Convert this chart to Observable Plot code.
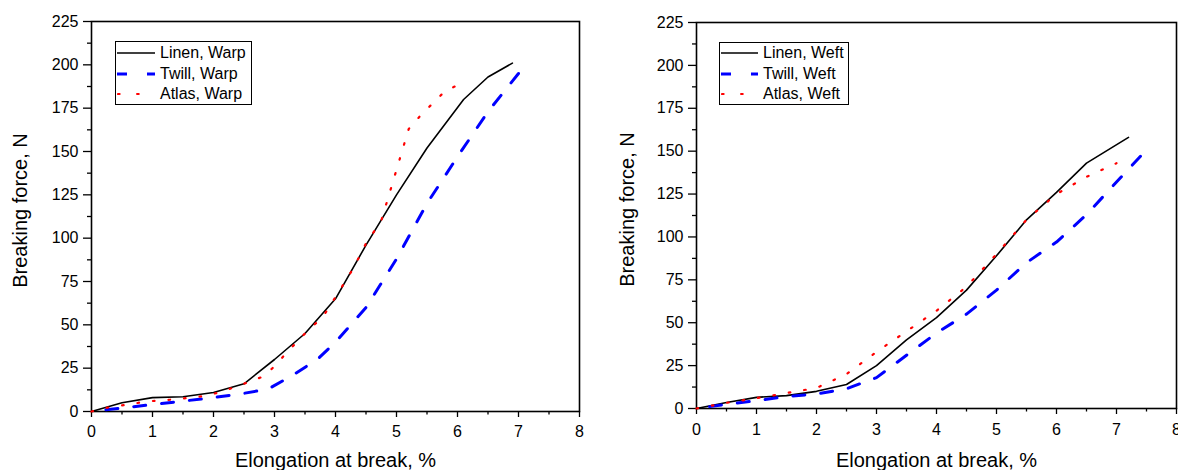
<!DOCTYPE html>
<html><head><meta charset="utf-8">
<script src="https://cdn.jsdelivr.net/npm/d3@7"></script>
<script src="https://cdn.jsdelivr.net/npm/@observablehq/plot@0.6"></script>
<style>
html,body{margin:0;padding:0;background:#fff;}
#wrap{position:relative;width:1178px;height:470px;overflow:hidden;font-family:"Liberation Sans",Arial,sans-serif;}
.panel{position:absolute;top:0;}
.panel svg{overflow:visible;}
.legend{position:absolute;border:1px solid #000;background:#fff;box-sizing:border-box;font-size:16px;color:#000;}
.legend .row{position:absolute;left:0;height:20px;display:flex;align-items:center;white-space:nowrap;}
.legend .row svg{display:block;margin-right:5px;}
</style>
</head><body>
<div id="wrap"></div>
<script>
// ---- tick values ----
const xTicks = [0,1,2,3,4,5,6,7,8];
const xMinor = [0.5,1.5,2.5,3.5,4.5,5.5,6.5,7.5];
const yTicks = [0,25,50,75,100,125,150,175,200,225];
const yMinor = [12.5,37.5,62.5,87.5,112.5,137.5,162.5,187.5,212.5];
const xTitle = "Elongation at break, %";
const yTitle = "Breaking force, N";

// ---- Warp (left panel) ----
const linenWarpX = [0,0.5,1,1.5,2,2.5,3,3.5,4,4.5,5,5.5,6.1,6.5,6.9];
const linenWarpY = [0,5,8,8.5,11,16,30,45,65,96,125,152,180,193,201];
const twillWarpX = [0,0.5,1,1.5,2,2.5,2.9,3.3,3.7,4,4.5,5,5.5,6,6.5,7];
const twillWarpY = [0,2,4,6,8,10.5,13,21,30,40,60,88,120,147,173,195];
const atlasWarpX = [0,0.3,0.6,0.9,1.2,1.5,1.8,2.1,2.5,2.8,3,3.2,3.5,3.8,4,4.3,4.5,4.75,5.2,5.4,5.6,5.8,6.05];
const atlasWarpY = [0,2.5,4,5.8,6.5,7.5,8.7,11,16,20,26,34,45,55,66,83,97,110,163,171,178,185,189];

// ---- Weft (right panel) ----
const linenWeftX = [0,0.5,1,1.5,2,2.5,3,3.5,4,4.5,5,5.5,6,6.5,7.2];
const linenWeftY = [0,3.5,6.5,7.5,10,14,25,40,53,69,89,110,126,143,158];
const twillWeftX = [0,0.5,1,1.5,2,2.5,3,3.5,4,4.5,5,5.5,6,6.5,7,7.4];
const twillWeftY = [0,2.5,4.5,7,8.5,11.5,18,31,44,55,69,85,97,113,132,147];
const atlasWeftX = [0,0.5,1,1.5,2,2.5,3,3.5,4,4.5,5,5.5,6,6.5,7];
const atlasWeftY = [0,3.3,6,9,12,20,33,45,57,71,90,110,125,135,143];

const warpLabels = ["Linen, Warp","Twill, Warp","Atlas, Warp"];
const weftLabels = ["Linen, Weft","Twill, Weft","Atlas, Weft"];

const styles = [
  {stroke:"#000000", strokeWidth:1.6, dash:null},
  {stroke:"#0000ff", strokeWidth:3, dash:"12,16"},
  {stroke:"#ff0000", strokeWidth:2.2, dash:"1.6,14"}
];

const toPts = (xs, ys) => xs.map((x,i)=>({x, y:ys[i]}));

function panel(series, o){
  const marks = [
    Plot.axisX({ticks:xMinor, tickSize:3.5, text:null, label:null, strokeWidth:1.3}),
    Plot.axisY({ticks:yMinor, tickSize:4, text:null, label:null, strokeWidth:1.3}),
    Plot.axisX({ticks:xTicks, tickSize:6, tickPadding:o.xPad, label:null, fontSize:16, tickFormat:d=>String(d), strokeWidth:1.3}),
    Plot.axisY({ticks:yTicks, tickSize:8, tickPadding:5, label:null, fontSize:16, tickFormat:d=>String(d), strokeWidth:1.3}),
    Plot.frame({stroke:"#000", strokeWidth:1.6}),
    Plot.text([xTitle], {frameAnchor:"bottom", dy:o.xTitleDy, fontSize:20, lineAnchor:"bottom", textAnchor:"middle", fill:"#000"}),
    Plot.text([yTitle], {frameAnchor:"left", rotate:-90, dx:o.yTitleDx, dy:-6, fontSize:20, textAnchor:"middle", fill:"#000"})
  ];
  series.forEach((s,i)=>{
    const st = styles[i];
    const opt = {x:"x", y:"y", stroke:st.stroke, strokeWidth:st.strokeWidth, curve:"linear"};
    if (st.dash) { opt.strokeDasharray = st.dash; }
    if (i===2) opt.strokeLinecap = "round";
    marks.push(Plot.line(toPts(s[0], s[1]), opt));
  });
  return Plot.plot({
    width:o.width, height:470,
    marginLeft:o.ml, marginRight:o.mr, marginTop:o.mt, marginBottom:o.mb,
    x:{domain:[0,8], ticks:[]},
    y:{domain:[0,225], ticks:[]},
    style:{fontFamily:'"Liberation Sans", Arial, sans-serif', fontSize:"16px", color:"#000", background:"transparent", overflow:"visible"},
    marks
  });
}

function legend(labels, box){
  const d = document.createElement("div");
  d.className = "legend";
  Object.assign(d.style, {left:box.left+"px", top:box.top+"px", width:box.w+"px", height:box.h+"px"});
  labels.forEach((lab,i)=>{
    const st = styles[i];
    const row = document.createElement("div");
    row.className = "row";
    row.style.top = (box.rowTop + i*20.5 - 10) + "px";
    row.style.left = "1px";
    const dash = i===1 ? "10,20" : (i===2 ? "1.6,17.5" : "none");
    row.innerHTML = `<svg width="${box.sw}" height="8"><line x1="${i===2?1:0}" y1="4" x2="${box.sw}" y2="4" stroke="${st.stroke}" stroke-width="${st.strokeWidth}" stroke-dasharray="${dash}" stroke-linecap="${i===2?'round':'butt'}"/></svg><span>${lab}</span>`;
    d.appendChild(row);
  });
  return d;
}

const wrap = document.getElementById("wrap");

const p1 = document.createElement("div"); p1.className="panel"; p1.style.left="0px";
p1.appendChild(panel([[linenWarpX,linenWarpY],[twillWarpX,twillWarpY],[atlasWarpX,atlasWarpY]],
  {width:600, ml:91, mr:21, mt:21, mb:59, xPad:8, xTitleDy:55, yTitleDx:-71}));
wrap.appendChild(p1);

const p2 = document.createElement("div"); p2.className="panel"; p2.style.left="589px";
p2.appendChild(panel([[linenWeftX,linenWeftY],[twillWeftX,twillWeftY],[atlasWeftX,atlasWeftY]],
  {width:589, ml:107, mr:2, mt:22, mb:62, xPad:9, xTitleDy:58, yTitleDx:-69}));
wrap.appendChild(p2);

wrap.appendChild(legend(warpLabels, {left:115, top:41, w:137, h:64, rowTop:11, sw:38}));
wrap.appendChild(legend(weftLabels, {left:719, top:42, w:130, h:63, rowTop:10, sw:37}));

// make the dashed lines finish on a dash, as in the reference
document.querySelectorAll('[stroke="#0000ff"] path, path[stroke="#0000ff"]').forEach(p => {
  if (!p.getTotalLength) return;
  const L = p.getTotalLength();
  const off = (((12 - L) % 28) + 28) % 28;
  p.setAttribute("stroke-dashoffset", off);
});
</script>
</body></html>
